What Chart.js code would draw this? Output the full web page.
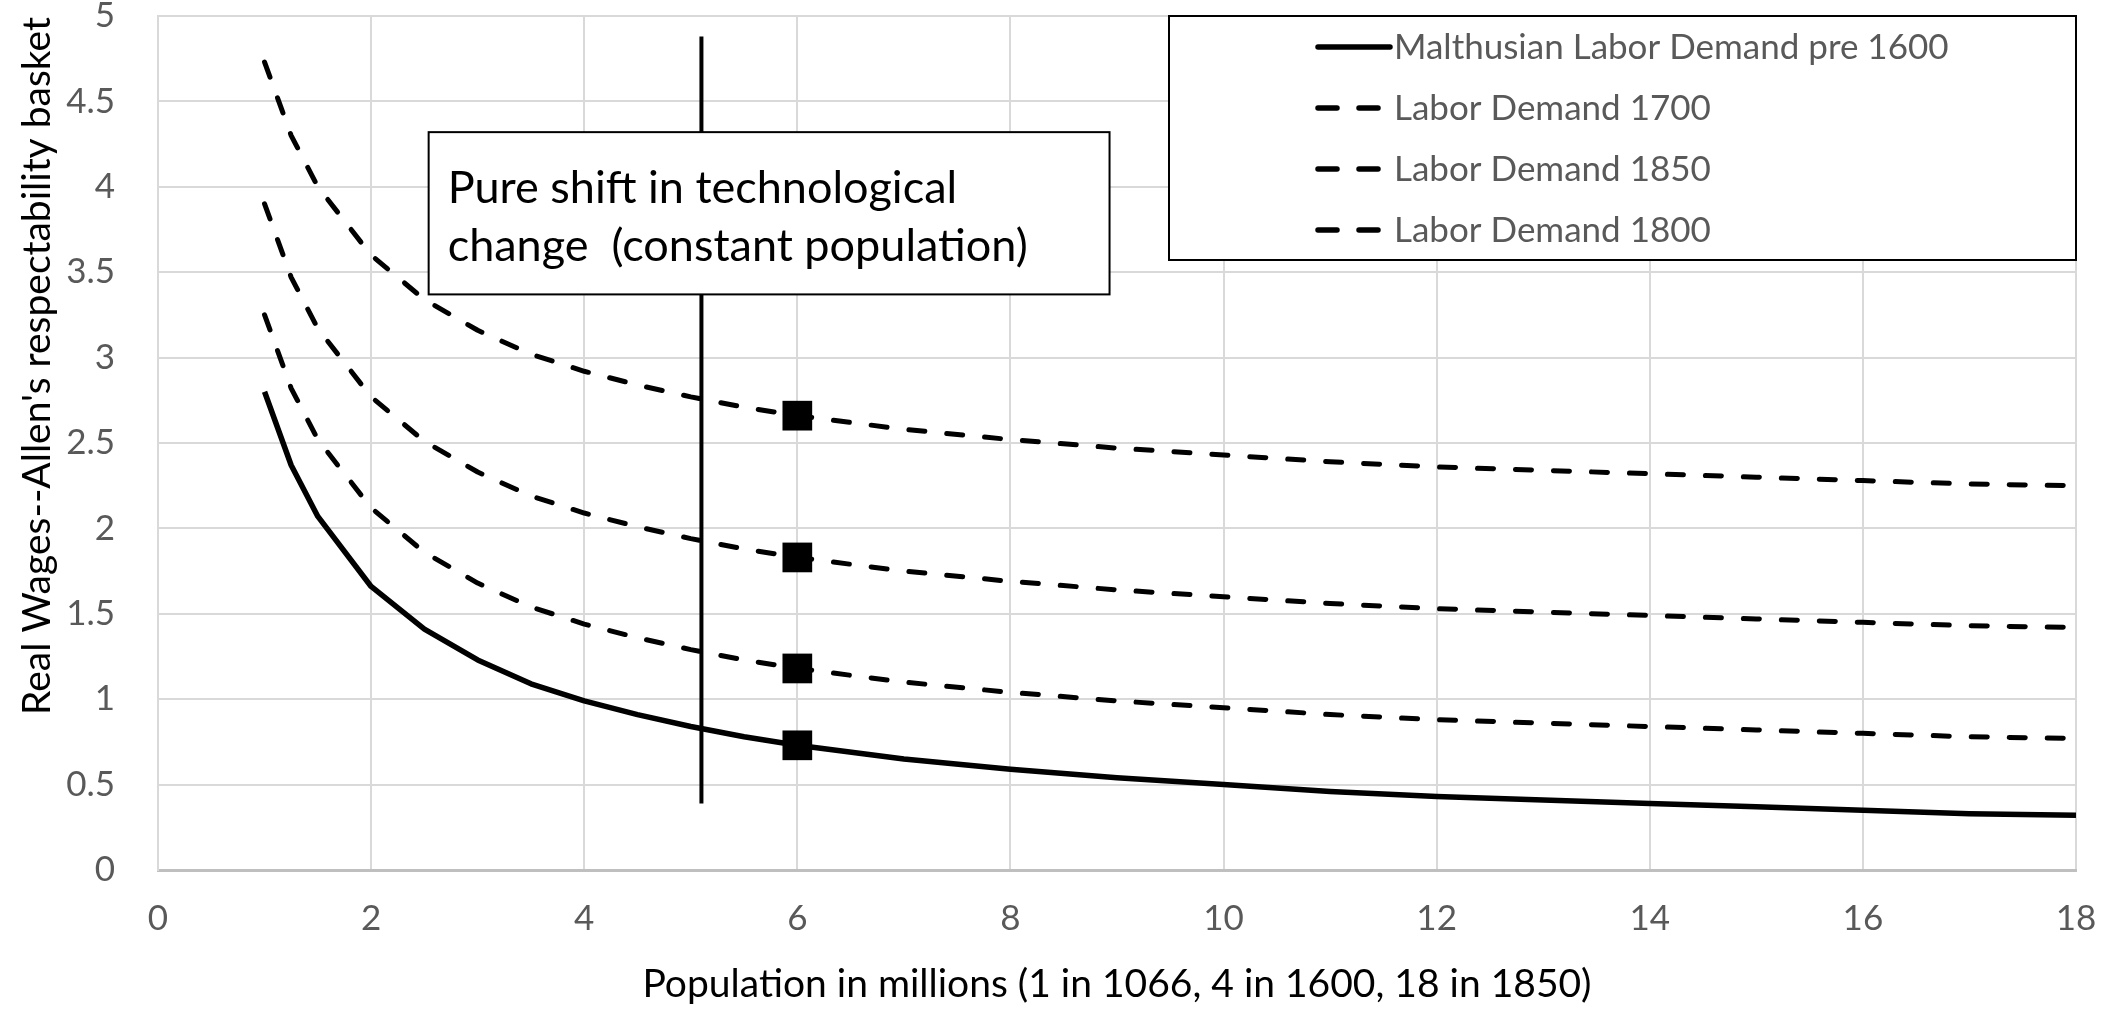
<!DOCTYPE html>
<html>
<head>
<meta charset="utf-8">
<script src="https://cdn.jsdelivr.net/npm/chart.js@4.4.1/dist/chart.umd.min.js"></script>
<style>
  html, body { margin: 0; padding: 0; background: #ffffff; }
  #wrap { width: 2128px; height: 1009px; }
</style>
</head>
<body>
<div id="wrap"><canvas id="c" width="2128" height="1009"></canvas></div>
<script>
// ---- data ----
const population = [1, 1.25, 1.5, 2, 2.5, 3, 3.5, 4, 4.5, 5, 5.5, 6, 7, 8, 9, 10, 11, 12, 13, 14, 15, 16, 17, 18];
const malthusianPre1600 = [2.80, 2.37, 2.07, 1.66, 1.41, 1.23, 1.09, 0.99, 0.91, 0.84, 0.78, 0.73, 0.65, 0.59, 0.54, 0.50, 0.46, 0.43, 0.41, 0.39, 0.37, 0.35, 0.33, 0.32];
const demand1700 = [3.25, 2.82, 2.52, 2.12, 1.86, 1.68, 1.54, 1.44, 1.36, 1.29, 1.23, 1.18, 1.10, 1.04, 0.99, 0.95, 0.91, 0.88, 0.86, 0.84, 0.82, 0.80, 0.78, 0.77];
const demand1850 = [4.73, 4.30, 4.00, 3.60, 3.34, 3.16, 3.02, 2.92, 2.84, 2.77, 2.71, 2.66, 2.58, 2.52, 2.47, 2.43, 2.39, 2.36, 2.34, 2.32, 2.30, 2.28, 2.26, 2.25];
const demand1800 = [3.90, 3.47, 3.17, 2.77, 2.51, 2.33, 2.19, 2.09, 2.01, 1.94, 1.88, 1.83, 1.75, 1.69, 1.64, 1.60, 1.56, 1.53, 1.51, 1.49, 1.47, 1.45, 1.43, 1.42];
const seriesLabels = ['Malthusian Labor Demand pre 1600', 'Labor Demand 1700', 'Labor Demand 1850', 'Labor Demand 1800'];
const markerPopulation = 6;
const shiftLineX = [5.1, 5.1];
const shiftLineY = [0.39, 4.88];
const annotationLines = ['Pure shift in technological', 'change  (constant population)'];
const xTitle = 'Population in millions (1 in 1066, 4 in 1600, 18 in 1850)';
const yTitle = "Real Wages--Allen's respectability basket";

// ---- build ----
const toPts = ys => population.map((x, i) => ({ x: x, y: ys[i] }));
const markerRadius = ctx => (ctx.raw && ctx.raw.x === markerPopulation) ? 21 : 0;

function seriesDataset(label, ys, dashed) {
  return {
    label: label,
    data: toPts(ys),
    borderColor: '#000000',
    backgroundColor: '#000000',
    borderWidth: dashed ? 5 : 5.5,
    borderDash: dashed ? [16, 22] : [],
    borderCapStyle: dashed ? 'round' : 'butt',
    borderJoinStyle: 'round',
    tension: 0,
    pointStyle: 'rect',
    pointRadius: markerRadius,
    pointHoverRadius: markerRadius,
    pointBackgroundColor: '#000000',
    pointBorderWidth: 0,
    fill: false
  };
}

const datasets = [
  seriesDataset(seriesLabels[0], malthusianPre1600, false),
  seriesDataset(seriesLabels[1], demand1700, true),
  seriesDataset(seriesLabels[2], demand1850, true),
  seriesDataset(seriesLabels[3], demand1800, true),
  {
    label: 'shift',
    data: shiftLineX.map((x, i) => ({ x: x, y: shiftLineY[i] })),
    borderColor: '#000000',
    borderWidth: 4,
    pointRadius: 0,
    fill: false,
    order: 10
  }
];

const annotationBox = { xMin: 2.54, xMax: 8.93, yMin: 3.37, yMax: 4.32 };

const boxPlugin = {
  id: 'boxPlugin',
  afterDatasetsDraw(chart) {
    const { ctx, scales } = chart;
    const x0 = scales.x.getPixelForValue(annotationBox.xMin);
    const x1 = scales.x.getPixelForValue(annotationBox.xMax);
    const y0 = scales.y.getPixelForValue(annotationBox.yMax);
    const y1 = scales.y.getPixelForValue(annotationBox.yMin);
    ctx.save();
    ctx.fillStyle = '#ffffff';
    ctx.fillRect(x0, y0, x1 - x0, y1 - y0);
    ctx.strokeStyle = '#000000';
    ctx.lineWidth = 2;
    ctx.strokeRect(x0, y0, x1 - x0, y1 - y0);
    ctx.fillStyle = '#000000';
    ctx.font = '45px Lato';
    ctx.textBaseline = 'middle';
    ctx.textAlign = 'left';
    annotationLines.forEach((t, i) => {
      ctx.fillText(t, x0 + 19, y0 + 56 + i * 58);
    });
    ctx.restore();
  }
};

const legendPlugin = {
  id: 'customLegend',
  afterDraw(chart) {
    const ctx = chart.ctx;
    const bx = 1169, by = 16, bw = 907, bh = 244;
    ctx.save();
    ctx.fillStyle = '#ffffff';
    ctx.fillRect(bx, by, bw, bh);
    ctx.strokeStyle = '#000000';
    ctx.lineWidth = 2;
    ctx.strokeRect(bx, by, bw, bh);
    seriesLabels.forEach((lab, i) => {
      const ds = chart.data.datasets[i];
      const cy = 47 + i * 61;
      ctx.strokeStyle = '#000000';
      ctx.lineWidth = 5.5;
      ctx.lineCap = 'round';
      ctx.setLineDash([]);
      ctx.beginPath();
      if (ds.borderDash && ds.borderDash.length) {
        ctx.moveTo(1318, cy); ctx.lineTo(1337, cy);
        ctx.moveTo(1359, cy); ctx.lineTo(1378, cy);
      } else {
        ctx.moveTo(1318, cy); ctx.lineTo(1390, cy);
      }
      ctx.stroke();
      ctx.fillStyle = '#595959';
      ctx.font = '35px Lato';
      ctx.textBaseline = 'middle';
      ctx.textAlign = 'left';
      ctx.fillText(lab, 1394, cy + 1);
    });
    // y axis title
    ctx.save();
    ctx.translate(37, 366);
    ctx.rotate(-Math.PI / 2);
    ctx.fillStyle = '#000000';
    ctx.font = '39px Lato';
    ctx.textAlign = 'center';
    ctx.textBaseline = 'middle';
    ctx.fillText(yTitle, 0, 0);
    ctx.restore();
    ctx.restore();
  }
};

new Chart(document.getElementById('c'), {
  type: 'line',
  data: { datasets: datasets },
  options: {
    responsive: false,
    animation: false,
    devicePixelRatio: 1,
    layout: { padding: { top: 16, right: 52, left: 0, bottom: 0 } },
    plugins: { legend: { display: false }, tooltip: { enabled: false }, title: { display: false } },
    scales: {
      x: {
        type: 'linear',
        min: 0, max: 18,
        ticks: { stepSize: 2, color: '#595959', font: { family: 'Lato', size: 35 }, padding: 28, maxRotation: 0 },
        grid: { color: '#d9d9d9', lineWidth: 2, drawTicks: false },
        border: { color: '#bfbfbf', width: 3 },
        title: { display: true, text: xTitle, color: '#000000', font: { family: 'Lato', size: 39 }, padding: { top: 0, bottom: 1 } },
        afterFit(scale) { scale.height = 139; scale.paddingLeft = 0; scale.paddingRight = 0; }
      },
      y: {
        type: 'linear',
        min: 0, max: 5,
        ticks: {
          stepSize: 0.5, color: '#595959', font: { family: 'Lato', size: 35, lineHeight: 1 }, padding: 43,
          callback: v => String(Math.round(v * 10) / 10)
        },
        grid: { color: '#d9d9d9', lineWidth: 2, drawTicks: false },
        border: { color: '#d9d9d9', width: 2 },
        title: { display: false },
        afterFit(scale) { scale.width = 158; scale.paddingTop = 0; scale.paddingBottom = 0; }
      }
    }
  },
  plugins: [boxPlugin, legendPlugin]
});
</script>
</body>
</html>
